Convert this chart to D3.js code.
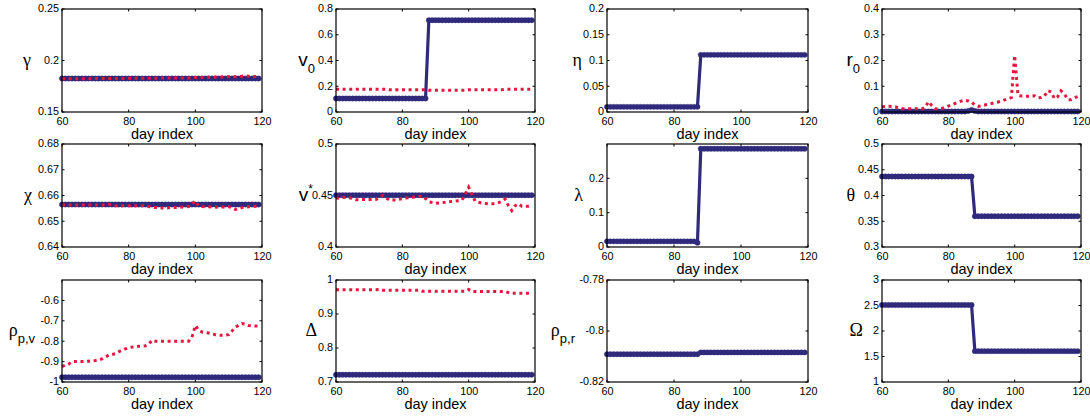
<!DOCTYPE html>
<html><head><meta charset="utf-8">
<script src="https://cdn.jsdelivr.net/npm/d3@7"></script>
<style>
html,body{margin:0;padding:0;background:#fff;}
svg{display:block;}
text{font-family:"Liberation Sans",Arial,Helvetica,sans-serif;}
</style></head><body>
<svg id="chart" width="1090" height="419"></svg>
<script>
// ---------- data ----------
const days = [60,61,62,63,64,65,66,67,68,69,70,71,72,73,74,75,76,77,78,79,
  80,81,82,83,84,85,86,87,88,89,90,91,92,93,94,95,96,97,98,99,
  100,101,102,103,104,105,106,107,108,109,110,111,112,113,114,115,116,117,118,119];
const xTicks = [60,80,100,120];

const gammaBlue = [0.1825,0.1825,0.1825,0.1825,0.1825,0.1825,0.1825,0.1825,0.1825,0.1825,
  0.1825,0.1825,0.1825,0.1825,0.1825,0.1825,0.1825,0.1825,0.1825,0.1825,
  0.1825,0.1825,0.1825,0.1825,0.1825,0.1825,0.1825,0.1825,0.1825,0.1825,
  0.1825,0.1825,0.1825,0.1825,0.1825,0.1825,0.1825,0.1825,0.1825,0.1825,
  0.1825,0.1825,0.1825,0.1825,0.1825,0.1825,0.1825,0.1825,0.1825,0.1825,
  0.1825,0.1825,0.1825,0.1825,0.1825,0.1825,0.1825,0.1825,0.1825,0.1825];
const gammaRed = [0.1822,0.1822,0.1822,0.1822,0.1822,0.1822,0.1822,0.1822,0.1822,0.1822,
  0.1825,0.1825,0.1825,0.1825,0.1825,0.1825,0.1825,0.1825,0.1825,0.1825,
  0.1828,0.1828,0.1828,0.1828,0.1828,0.1828,0.1828,0.1828,0.1828,0.1828,
  0.1831,0.1831,0.1831,0.1831,0.1831,0.1831,0.1831,0.1831,0.1831,0.1831,
  0.1836,0.1835,0.1836,0.1837,0.1838,0.1838,0.1839,0.1840,0.1840,0.1841,
  0.1842,0.1842,0.1843,0.1844,0.1848,0.1853,0.1847,0.1846,0.1845,0.1845];
const gammaTicks = [0.15,0.2,0.25];

const v0Blue = [0.105,0.105,0.105,0.105,0.105,0.105,0.105,0.105,0.105,0.105,
  0.105,0.105,0.105,0.105,0.105,0.105,0.105,0.105,0.105,0.105,
  0.105,0.105,0.105,0.105,0.105,0.105,0.105,0.105,0.713,0.713,
  0.713,0.713,0.713,0.713,0.713,0.713,0.713,0.713,0.713,0.713,
  0.713,0.713,0.713,0.713,0.713,0.713,0.713,0.713,0.713,0.713,
  0.713,0.713,0.713,0.713,0.713,0.713,0.713,0.713,0.713,0.713];
const v0Red = [0.176,0.176,0.176,0.176,0.176,0.176,0.176,0.176,0.176,0.176,
  0.176,0.176,0.176,0.176,0.176,0.176,0.172,0.172,0.172,0.172,
  0.172,0.172,0.172,0.172,0.172,0.172,0.172,0.172,0.168,0.168,
  0.168,0.168,0.168,0.168,0.168,0.168,0.168,0.168,0.168,0.168,
  0.172,0.172,0.172,0.172,0.172,0.172,0.172,0.172,0.172,0.172,
  0.172,0.176,0.176,0.176,0.176,0.176,0.176,0.176,0.176,0.176];
const v0Ticks = [0,0.2,0.4,0.6,0.8];

const etaBlue = [0.01,0.01,0.01,0.01,0.01,0.01,0.01,0.01,0.01,0.01,
  0.01,0.01,0.01,0.01,0.01,0.01,0.01,0.01,0.01,0.01,
  0.01,0.01,0.01,0.01,0.01,0.01,0.01,0.01,0.111,0.111,
  0.111,0.111,0.111,0.111,0.111,0.111,0.111,0.111,0.111,0.111,
  0.111,0.111,0.111,0.111,0.111,0.111,0.111,0.111,0.111,0.111,
  0.111,0.111,0.111,0.111,0.111,0.111,0.111,0.111,0.111,0.111];
const etaTicks = [0,0.05,0.1,0.15,0.2];

const r0Blue = [0.002,0.002,0.002,0.002,0.002,0.002,0.002,0.002,0.002,0.002,
  0.002,0.002,0.002,0.002,0.002,0.002,0.002,0.002,0.002,0.002,
  0.002,0.002,0.002,0.002,0.002,0.002,0.004,0.008,0.004,0.002,
  0.002,0.002,0.002,0.002,0.002,0.002,0.002,0.002,0.002,0.002,
  0.002,0.002,0.002,0.002,0.002,0.002,0.002,0.002,0.002,0.002,
  0.002,0.002,0.002,0.002,0.002,0.002,0.002,0.002,0.002,0.002];
const r0Red = [0.020,0.021,0.022,0.021,0.020,0.016,0.013,0.013,0.013,0.013,
  0.013,0.012,0.012,0.018,0.040,0.025,0.013,0.013,0.014,0.018,
  0.023,0.028,0.033,0.038,0.043,0.046,0.043,0.038,0.027,0.022,
  0.024,0.027,0.030,0.033,0.036,0.039,0.042,0.047,0.052,0.056,
  0.220,0.065,0.062,0.061,0.061,0.062,0.063,0.055,0.056,0.062,
  0.083,0.078,0.052,0.060,0.082,0.070,0.048,0.048,0.055,0.060];
const r0Ticks = [0,0.1,0.2,0.3,0.4];

const chiBlue = [0.6565,0.6565,0.6565,0.6565,0.6565,0.6565,0.6565,0.6565,0.6565,0.6565,
  0.6565,0.6565,0.6565,0.6565,0.6565,0.6565,0.6565,0.6565,0.6565,0.6565,
  0.6565,0.6565,0.6565,0.6565,0.6565,0.6565,0.6565,0.6565,0.6565,0.6565,
  0.6565,0.6565,0.6565,0.6565,0.6565,0.6565,0.6565,0.6565,0.6565,0.6565,
  0.6565,0.6565,0.6565,0.6565,0.6565,0.6565,0.6565,0.6565,0.6565,0.6565,
  0.6565,0.6565,0.6565,0.6565,0.6565,0.6565,0.6565,0.6565,0.6565,0.6565];
const chiRed = [0.6563,0.6563,0.6563,0.6563,0.6563,0.6563,0.6563,0.6563,0.6563,0.6563,
  0.6563,0.6563,0.6563,0.6563,0.6566,0.6562,0.6560,0.6560,0.6560,0.6560,
  0.6560,0.6560,0.6560,0.6560,0.6560,0.6560,0.6557,0.6554,0.6553,0.6551,
  0.6552,0.6551,0.6552,0.6553,0.6553,0.6554,0.6555,0.6556,0.6557,0.6567,
  0.6579,0.6559,0.6557,0.6556,0.6556,0.6555,0.6555,0.6554,0.6555,0.6555,
  0.6556,0.6553,0.6546,0.6549,0.6553,0.6555,0.6556,0.6557,0.6558,0.6558];
const chiTicks = [0.64,0.65,0.66,0.67,0.68];

const vstarBlue = [0.4503,0.4503,0.4503,0.4503,0.4503,0.4503,0.4503,0.4503,0.4503,0.4503,
  0.4503,0.4503,0.4503,0.4503,0.4503,0.4503,0.4503,0.4503,0.4503,0.4503,
  0.4503,0.4503,0.4503,0.4503,0.4503,0.4503,0.4503,0.4503,0.4503,0.4503,
  0.4503,0.4503,0.4503,0.4503,0.4503,0.4503,0.4503,0.4503,0.4503,0.4503,
  0.4503,0.4503,0.4503,0.4503,0.4503,0.4503,0.4503,0.4503,0.4503,0.4503,
  0.4503,0.4503,0.4503,0.4503,0.4503,0.4503,0.4503,0.4503,0.4503,0.4503];
const vstarRed = [0.4472,0.4476,0.4480,0.4480,0.4480,0.4468,0.4459,0.4460,0.4460,0.4460,
  0.4460,0.4460,0.4462,0.4475,0.4500,0.4480,0.4456,0.4456,0.4456,0.4463,
  0.4470,0.4475,0.4480,0.4483,0.4485,0.4490,0.4495,0.4470,0.4440,0.4432,
  0.4425,0.4428,0.4430,0.4435,0.4440,0.4443,0.4446,0.4450,0.4456,0.4515,
  0.4580,0.4510,0.4443,0.4435,0.4426,0.4423,0.4420,0.4420,0.4420,0.4430,
  0.4443,0.4466,0.4400,0.4354,0.4400,0.4420,0.4396,0.4396,0.4396,0.4398];
const vstarTicks = [0.4,0.45,0.5];

const lambdaBlue = [0.0165,0.0165,0.0165,0.0165,0.0165,0.0165,0.0165,0.0165,0.0165,0.0165,
  0.0165,0.0165,0.0165,0.0165,0.0165,0.0165,0.0165,0.0165,0.0165,0.0165,
  0.0165,0.0165,0.0165,0.0165,0.0165,0.0165,0.0165,0.0125,0.286,0.286,
  0.286,0.286,0.286,0.286,0.286,0.286,0.286,0.286,0.286,0.286,
  0.286,0.286,0.286,0.286,0.286,0.286,0.286,0.286,0.286,0.286,
  0.286,0.286,0.286,0.286,0.286,0.286,0.286,0.286,0.286,0.286];
const lambdaTicks = [0,0.1,0.2];

const thetaBlue = [0.437,0.437,0.437,0.437,0.437,0.437,0.437,0.437,0.437,0.437,
  0.437,0.437,0.437,0.437,0.437,0.437,0.437,0.437,0.437,0.437,
  0.437,0.437,0.437,0.437,0.437,0.437,0.437,0.437,0.3597,0.3597,
  0.3597,0.3597,0.3597,0.3597,0.3597,0.3597,0.3597,0.3597,0.3597,0.3597,
  0.3597,0.3597,0.3597,0.3597,0.3597,0.3597,0.3597,0.3597,0.3597,0.3597,
  0.3597,0.3597,0.3597,0.3597,0.3597,0.3597,0.3597,0.3597,0.3597,0.3597];
const thetaTicks = [0.3,0.35,0.4,0.45,0.5];

const rhoPVBlue = [-0.977,-0.977,-0.977,-0.977,-0.977,-0.977,-0.977,-0.977,-0.977,-0.977,
  -0.977,-0.977,-0.977,-0.977,-0.977,-0.977,-0.977,-0.977,-0.977,-0.977,
  -0.977,-0.977,-0.977,-0.977,-0.977,-0.977,-0.977,-0.977,-0.977,-0.977,
  -0.977,-0.977,-0.977,-0.977,-0.977,-0.977,-0.977,-0.977,-0.977,-0.977,
  -0.977,-0.977,-0.977,-0.977,-0.977,-0.977,-0.977,-0.977,-0.977,-0.977,
  -0.977,-0.977,-0.977,-0.977,-0.977,-0.977,-0.977,-0.977,-0.977,-0.977];
const rhoPVRed = [-0.924,-0.918,-0.913,-0.900,-0.900,-0.900,-0.900,-0.899,-0.898,-0.897,
  -0.895,-0.892,-0.887,-0.878,-0.868,-0.865,-0.861,-0.852,-0.844,-0.838,
  -0.832,-0.829,-0.827,-0.825,-0.824,-0.823,-0.815,-0.795,-0.800,-0.800,
  -0.800,-0.800,-0.800,-0.800,-0.800,-0.800,-0.800,-0.800,-0.800,-0.780,
  -0.723,-0.747,-0.755,-0.758,-0.760,-0.764,-0.768,-0.770,-0.771,-0.770,
  -0.768,-0.750,-0.731,-0.722,-0.713,-0.716,-0.723,-0.725,-0.726,-0.726];
const rhoPVTicks = [-1,-0.9,-0.8,-0.7,-0.6];

const deltaBlue = [0.7215,0.7215,0.7215,0.7215,0.7215,0.7215,0.7215,0.7215,0.7215,0.7215,
  0.7215,0.7215,0.7215,0.7215,0.7215,0.7215,0.7215,0.7215,0.7215,0.7215,
  0.7215,0.7215,0.7215,0.7215,0.7215,0.7215,0.7215,0.7215,0.7215,0.7215,
  0.7215,0.7215,0.7215,0.7215,0.7215,0.7215,0.7215,0.7215,0.7215,0.7215,
  0.7215,0.7215,0.7215,0.7215,0.7215,0.7215,0.7215,0.7215,0.7215,0.7215,
  0.7215,0.7215,0.7215,0.7215,0.7215,0.7215,0.7215,0.7215,0.7215,0.7215];
const deltaRed = [0.971,0.971,0.971,0.971,0.971,0.971,0.971,0.971,0.971,0.971,
  0.971,0.971,0.971,0.972,0.970,0.970,0.970,0.970,0.970,0.970,
  0.970,0.970,0.970,0.970,0.970,0.970,0.967,0.967,0.967,0.967,
  0.967,0.967,0.967,0.967,0.967,0.967,0.967,0.967,0.967,0.967,
  0.972,0.966,0.966,0.966,0.966,0.966,0.966,0.966,0.966,0.966,
  0.966,0.966,0.963,0.961,0.961,0.961,0.961,0.961,0.961,0.961];
const deltaTicks = [0.7,0.8,0.9,1];

const rhoPRBlue = [-0.8091,-0.8091,-0.8091,-0.8091,-0.8091,-0.8091,-0.8091,-0.8091,-0.8091,-0.8091,
  -0.8091,-0.8091,-0.8091,-0.8091,-0.8091,-0.8091,-0.8091,-0.8091,-0.8091,-0.8091,
  -0.8091,-0.8091,-0.8091,-0.8091,-0.8091,-0.8091,-0.8091,-0.8091,-0.8084,-0.8084,
  -0.8084,-0.8084,-0.8084,-0.8084,-0.8084,-0.8084,-0.8084,-0.8084,-0.8084,-0.8084,
  -0.8084,-0.8084,-0.8084,-0.8084,-0.8084,-0.8084,-0.8084,-0.8084,-0.8084,-0.8084,
  -0.8084,-0.8084,-0.8084,-0.8084,-0.8084,-0.8084,-0.8084,-0.8084,-0.8084,-0.8084];
const rhoPRTicks = [-0.82,-0.8,-0.78];

const omegaBlue = [2.51,2.51,2.51,2.51,2.51,2.51,2.51,2.51,2.51,2.51,
  2.51,2.51,2.51,2.51,2.51,2.51,2.51,2.51,2.51,2.51,
  2.51,2.51,2.51,2.51,2.51,2.51,2.51,2.51,1.605,1.605,
  1.605,1.605,1.605,1.605,1.605,1.605,1.605,1.605,1.605,1.605,
  1.605,1.605,1.605,1.605,1.605,1.605,1.605,1.605,1.605,1.605,
  1.605,1.605,1.605,1.605,1.605,1.605,1.605,1.605,1.605,1.605];
const omegaTicks = [1,1.5,2,2.5,3];

// ---------- panel configuration ----------
const panels = [
  {main:"γ", serif:true, blue:gammaBlue, red:gammaRed, domain:[0.15,0.25], ticks:gammaTicks, row:0, col:0, ldx:31},
  {main:"v", sub:"0", blue:v0Blue, red:v0Red, domain:[0,0.8], ticks:v0Ticks, row:0, col:1, ldx:21},
  {main:"η", serif:true, blue:etaBlue, red:null, domain:[0,0.2], ticks:etaTicks, row:0, col:2, ldx:25},
  {main:"r", sub:"0", blue:r0Blue, red:r0Red, domain:[0,0.4], ticks:r0Ticks, row:0, col:3, ldx:22},
  {main:"χ", serif:true, blue:chiBlue, red:chiRed, domain:[0.64,0.68], ticks:chiTicks, row:1, col:0, ldx:30},
  {main:"v", sup:"*", blue:vstarBlue, red:vstarRed, domain:[0.4,0.5], ticks:vstarTicks, row:1, col:1, ldx:23},
  {main:"λ", serif:true, blue:lambdaBlue, red:null, domain:[0,0.3], ticks:lambdaTicks, row:1, col:2, ldx:24},
  {main:"θ", serif:true, blue:thetaBlue, red:null, domain:[0.3,0.5], ticks:thetaTicks, row:1, col:3, ldx:27},
  {main:"ρ", serif:true, sub:"p,v", blue:rhoPVBlue, red:rhoPVRed, domain:[-1,-0.5], ticks:rhoPVTicks, row:2, col:0, ldx:27},
  {main:"Δ", serif:true, blue:deltaBlue, red:deltaRed, domain:[0.7,1], ticks:deltaTicks, row:2, col:1, ldx:19},
  {main:"ρ", serif:true, sub:"p,r", blue:rhoPRBlue, red:null, domain:[-0.82,-0.78], ticks:rhoPRTicks, row:2, col:2, ldx:32},
  {main:"Ω", serif:true, blue:omegaBlue, red:null, domain:[1,3], ticks:omegaTicks, row:2, col:3, ldx:19}
];

const colX = [[62,262],[336,535],[607,808],[882,1081]];
const rowY = [[9,112],[144,247],[280,382]];
const BLUE = "#2f2a7c", RED = "#e5173f";

const svg = d3.select("#chart");

panels.forEach(p => {
  const [x0,x1] = colX[p.col], [y0,y1] = rowY[p.row];
  const x = d3.scaleLinear().domain([60,120]).range([x0,x1]);
  const y = d3.scaleLinear().domain(p.domain).range([y1,y0]);
  const g = svg.append("g");

  // axes
  const ax = g.append("g").attr("transform",`translate(0,${y1})`)
    .call(d3.axisBottom(x).tickValues(xTicks).tickSize(0).tickPadding(7).tickFormat(d=>String(d)));
  const ay = g.append("g").attr("transform",`translate(${x0},0)`)
    .call(d3.axisLeft(y).tickValues(p.ticks).tickSize(0).tickPadding(3).tickFormat(d=>String(+d.toFixed(3))));
  [ax,ay].forEach(a => {
    a.select(".domain").remove();
    a.selectAll("text").attr("font-size",10.8).attr("fill","#000")
      .attr("font-family","Liberation Sans, Arial, sans-serif");
  });
  ax.selectAll("text").attr("dy","0.55em");
  ay.selectAll("text").attr("dy","0.26em");

  // inward ticks on all four sides
  const tl = 2.5;
  xTicks.forEach(t => {
    g.append("line").attr("x1",x(t)).attr("x2",x(t)).attr("y1",y1).attr("y2",y1-tl).attr("stroke","#000");
    g.append("line").attr("x1",x(t)).attr("x2",x(t)).attr("y1",y0).attr("y2",y0+tl).attr("stroke","#000");
  });
  p.ticks.forEach(t => {
    g.append("line").attr("x1",x0).attr("x2",x0+tl).attr("y1",y(t)).attr("y2",y(t)).attr("stroke","#000");
    g.append("line").attr("x1",x1).attr("x2",x1-tl).attr("y1",y(t)).attr("y2",y(t)).attr("stroke","#000");
  });

  const line = d3.line().x((d,i)=>x(days[i])).y(d=>y(d));

  // blue series with circle markers
  g.append("path").datum(p.blue).attr("d",line).attr("fill","none")
    .attr("stroke",BLUE).attr("stroke-width",3.2);
  g.selectAll("circle.m").data(p.blue).join("circle").attr("class","m")
    .attr("cx",(d,i)=>x(days[i])).attr("cy",d=>y(d)).attr("r",2.7)
    .attr("fill",BLUE).attr("stroke",BLUE).attr("stroke-width",0.3);

  // red dotted series
  if (p.red) {
    g.append("path").datum(p.red).attr("d",line).attr("fill","none")
      .attr("stroke",RED).attr("stroke-width",3).attr("stroke-dasharray","3,3.6");
  }

  // frame
  g.append("rect").attr("x",x0).attr("y",y0).attr("width",x1-x0).attr("height",y1-y0)
    .attr("fill","none").attr("stroke","#000").attr("stroke-width",1.2);

  // x label
  g.append("text").attr("x",(x0+x1)/2).attr("y",y1+27).attr("text-anchor","middle")
    .attr("font-size",14.5).text("day index");

  // y label
  const lab = g.append("text").attr("x",x0-p.ldx).attr("y",(y0+y1)/2+5).attr("text-anchor","end");
  lab.append("tspan").attr("font-family", p.serif ? "Liberation Serif, DejaVu Serif, serif" : "Liberation Sans, Arial, sans-serif")
    .attr("font-size", p.serif ? 18 : 19).text(p.main);
  if (p.sub) lab.append("tspan").attr("font-size",13).attr("dy",7).text(p.sub);
  if (p.sup) lab.append("tspan").attr("font-size",12).attr("dy",-8).text(p.sup);
});
</script>
</body></html>
